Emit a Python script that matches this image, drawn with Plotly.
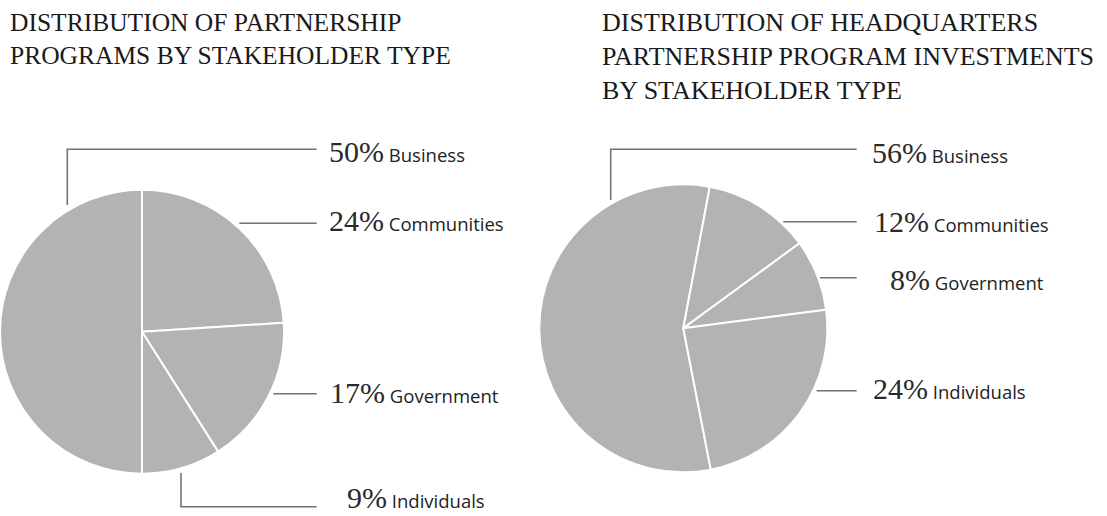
import plotly.graph_objects as go

W, H = 1107, 516

# ---- data ----
categories = ["Business", "Communities", "Government", "Individuals"]
programs_share = [50, 24, 17, 9]
investment_share = [56, 12, 8, 24]

title_left = "DISTRIBUTION OF PARTNERSHIP<br>PROGRAMS BY STAKEHOLDER TYPE"
title_right = "DISTRIBUTION OF HEADQUARTERS<br>PARTNERSHIP PROGRAM INVESTMENTS<br>BY STAKEHOLDER TYPE"

# ---- layout helpers (pixel -> paper) ----
def px(x):
    return x / W

def py(y):
    return 1 - y / H

PIE_COLOR = "#b3b3b3"
LINE_COLOR = "#727272"

fig = go.Figure()

# left pie: centre (142, 331.7), r 142
fig.add_trace(go.Pie(
    labels=categories, values=programs_share, sort=False,
    direction="clockwise", rotation=180,
    marker=dict(colors=[PIE_COLOR] * 4, line=dict(color="white", width=2)),
    textinfo="none", hoverinfo="label+percent",
    domain=dict(x=[px(0), px(284)], y=[py(473.7), py(189.7)]),
))

# right pie: centre (683.3, 328.3), r 144
fig.add_trace(go.Pie(
    labels=categories, values=investment_share, sort=False,
    direction="clockwise", rotation=169,
    marker=dict(colors=[PIE_COLOR] * 4, line=dict(color="white", width=2)),
    textinfo="none", hoverinfo="label+percent",
    domain=dict(x=[px(539.3), px(827.3)], y=[py(472.3), py(184.3)]),
))

# leader lines (pixel polylines)
left_leaders = [
    [(67.3, 205), (67.3, 149.3), (316.7, 149.3)],
    [(239.3, 223.3), (316.7, 223.3)],
    [(273.3, 393.8), (316.7, 393.8)],
    [(181, 473), (181, 506.7), (316.7, 506.7)],
]
right_leaders = [
    [(610.7, 200), (610.7, 149.3), (856.7, 149.3)],
    [(783.3, 221.7), (856.7, 221.7)],
    [(820, 277.7), (856.7, 277.7)],
    [(816.7, 390.7), (856.7, 390.7)],
]

shapes = []
for pts in left_leaders + right_leaders:
    path = "M " + " L ".join(f"{px(x)},{py(y)}" for x, y in pts)
    shapes.append(dict(type="path", xref="paper", yref="paper", path=path,
                       line=dict(color=LINE_COLOR, width=1.6)))

# label positions (x start, y centre of digits)
left_label_pos = [(327, 151.5), (327, 220), (328, 392.5), (345, 497)]
right_label_pos = [(870, 152), (871.5, 221), (888, 279), (870.5, 388.3)]

annotations = []

def add_labels(values, positions):
    for cat, v, (x, y) in zip(categories, values, positions):
        txt = (f"{v}%<span style=\"font-family:Open Sans;font-size:18.5px;color:#222222\">"
               f" {cat}</span>")
        annotations.append(dict(
            x=px(x), y=py(y), xref="paper", yref="paper",
            xanchor="left", yanchor="middle", showarrow=False,
            text=txt, align="left",
            font=dict(family="Liberation Serif", size=30, color="#2a2a2a"),
        ))

add_labels(programs_share, left_label_pos)
add_labels(investment_share, right_label_pos)

annotations.append(dict(
    x=px(8), y=py(6), xref="paper", yref="paper", xanchor="left", yanchor="top",
    showarrow=False, align="left", text=title_left,
    font=dict(family="Liberation Serif", size=25.5, color="#1a1a1a"),
))
annotations.append(dict(
    x=px(600), y=py(6), xref="paper", yref="paper", xanchor="left", yanchor="top",
    showarrow=False, align="left", text=title_right,
    font=dict(family="Liberation Serif", size=26, color="#1a1a1a"),
))

fig.update_layout(
    width=W, height=H, autosize=False,
    margin=dict(l=0, r=0, t=0, b=0),
    paper_bgcolor="white", plot_bgcolor="white",
    showlegend=False,
    shapes=shapes, annotations=annotations,
)

fig.write_html("out.html", config={"displayModeBar": False},
               post_script="document.body.style.margin='0';document.body.style.overflow='hidden';")
